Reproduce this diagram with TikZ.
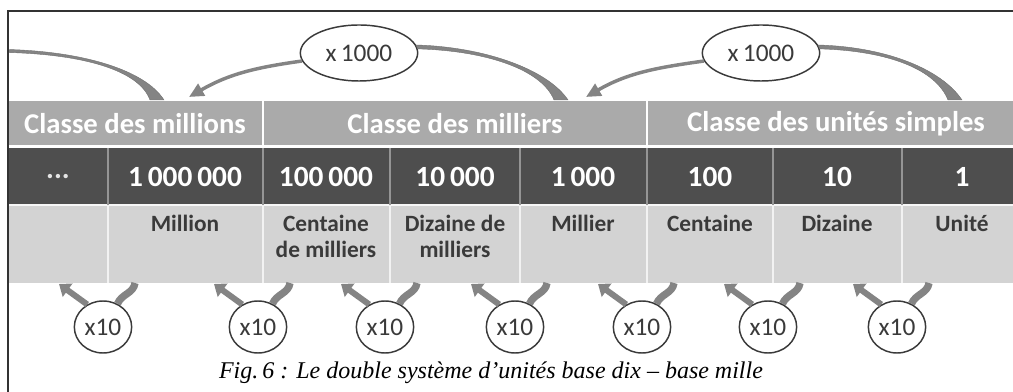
\documentclass[tikz,border=0pt]{standalone}
\usepackage{fontspec}
\setmainfont{Carlito}
\newfontfamily\legendfont{Liberation Serif}
\usetikzlibrary{arrows.meta,shapes.geometric,calc}

\definecolor{rowclass}{RGB}{170,170,170}
\definecolor{rownum}{RGB}{78,78,78}
\definecolor{rowname}{RGB}{211,211,211}
\definecolor{arrowgray}{RGB}{132,132,132}
\definecolor{textgray}{RGB}{58,58,58}

\tikzset{
  classtext/.style={text=white,font=\fontsize{21.5}{25}\selectfont\bfseries},
  numtext/.style={text=white,font=\fontsize{22}{25}\selectfont\bfseries},
  nametext/.style={text=textgray,font=\fontsize{17.5}{19.5}\selectfont\bfseries,
    align=center,anchor=north,inner sep=0pt},
  mille/.style={ellipse,draw=textgray,line width=1.1pt,fill=white,inner sep=0pt,
    minimum width=88pt,minimum height=42pt,text=textgray,font=\fontsize{19}{22}\selectfont},
  dix/.style={ellipse,draw=textgray,line width=1.1pt,fill=white,inner sep=0pt,
    minimum width=43pt,minimum height=39pt,text=textgray,font=\fontsize{19}{22}\selectfont},
  milhead/.style={draw=arrowgray,line width=2.6pt,-{Triangle[length=11pt,width=10pt]}},
  miltail/.style={fill=arrowgray,draw=arrowgray!85!black,line width=0.3pt},
  dixhead/.style={draw=arrowgray,line width=4.5pt,-{Triangle[length=8pt,width=12pt]}},
  dixtail/.style={draw=arrowgray,line width=5.5pt},
  frame/.style={draw=black!80,line width=1pt}
}

\begin{document}
\begin{tikzpicture}[x=0.75pt,y=0.75pt]
  \useasboundingbox (0,0) rectangle (1013,392);

  % rows of the table
  \fill[rowclass] (8,247) rectangle (1013,291);
  \fill[rownum] (8,187) rectangle (1013,244);
  \fill[rowname] (8,109) rectangle (1013,187);
  \draw[white,line width=1.5pt] (8,245.5) -- (1013,245.5);
  \draw[white!80!rowname,line width=1pt] (8,187) -- (1013,187);

  \foreach \b in {263,647}
    \draw[white,line width=1pt] (\b,247) -- (\b,291);
  \foreach \b in {108,263,390,520,647,773,902} {
    \draw[rownum!60!white,line width=1pt] (\b,187) -- (\b,244);
    \draw[white!70!rowname,line width=1pt] (\b,109) -- (\b,187);
  }

  % classes
  \node[classtext] (cmillions) at (135,268) {Classe des millions};
  \node[classtext] (cmilliers) at (455,268) {Classe des milliers};
  \node[classtext] (cunites) at (836,268) {Classe des unités simples};

  % values
  \node[numtext,text=white!85!rownum] (v0) at (58,215) {...};
  \foreach \x/\v [count=\i] in {185/1\,000\,000, 326/100\,000, 455/10\,000,
      583/1\,000, 710/100, 837/10, 962/1}
    \node[numtext] (v\i) at (\x,215) {\v};

  % names
  \foreach \x/\n [count=\i] in {185/Million, 326/Centaine\\de milliers,
      455/Dizaine de\\milliers, 583/Millier, 710/Centaine, 837/Dizaine, 962/Unité}
    \node[nametext] (n\i) at (\x,177) {\n};

  % base mille
  \node[mille] (mille1) at (359,339) {x\,1000};
  \node[mille] (mille2) at (761,339) {x\,1000};
  \coordinate (bord) at (8,341);
  \coordinate (queue0) at (157,292);
  \coordinate (pointe1) at (189,295);
  \coordinate (queue1) at (561,292);
  \coordinate (pointe2) at (586,295);
  \coordinate (queue2) at (955,292);

  \filldraw[miltail] ($(bord)+(0,1.5)$) .. controls +(75,-2) and +(-19,30) .. ($(queue0)+(7,0)$)
    -- ($(queue0)+(-7,0)$) .. controls +(-11,30) and +(75,-2) .. ($(bord)+(0,-1.5)$) -- cycle;
  \draw[milhead] (mille1.188) to[out=188,in=30] (pointe1);
  \filldraw[miltail] (mille1.8) .. controls +(70,-2) and +(-20,30) .. ($(queue1)+(7,0)$)
    -- ($(queue1)+(-7,0)$) .. controls +(-12,30) and +(70,-2) .. (mille1.4) -- cycle;
  \draw[milhead] (mille2.188) to[out=188,in=30] (pointe2);
  \filldraw[miltail] (mille2.8) .. controls +(70,-2) and +(-20,30) .. ($(queue2)+(7,0)$)
    -- ($(queue2)+(-7,0)$) .. controls +(-12,30) and +(70,-2) .. (mille2.4) -- cycle;

  % base dix
  \foreach \b [count=\i] in {108,263,390,520,647,773,902} {
    \node[dix] (dix\i) at (\b-5,65) {x10};
    \coordinate (haut\i) at (\b+27,109);
    \coordinate (bout\i) at (\b-49,108);
    \draw[dixtail] (dix\i.58) to[out=68,in=-98] (haut\i);
    \draw[dixhead] (dix\i.125) -- (bout\i);
  }

  % caption and frame
  \node[font=\legendfont\itshape\fontsize{18}{22}\selectfont] (legende) at (491,19)
    {Fig.\,6 : Le double système d’unités base dix – base mille};
  \draw[frame] (8,0) -- (8,381) -- (1013,381);
\end{tikzpicture}
\end{document}
